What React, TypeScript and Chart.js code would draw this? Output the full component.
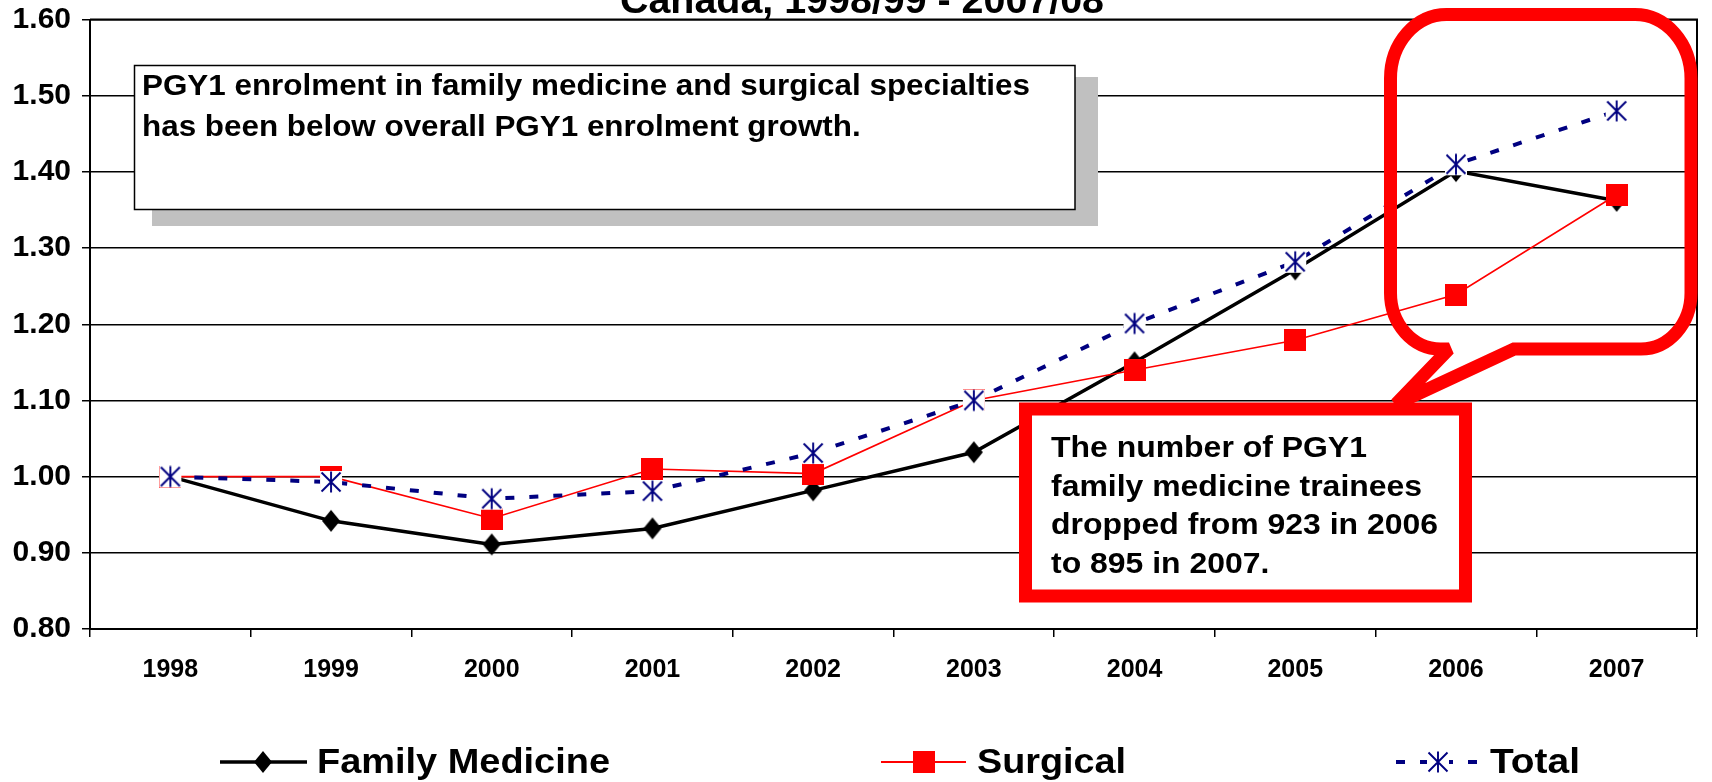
import React, { useEffect, useRef } from 'react';
import { Chart, registerables } from 'chart.js';

Chart.register(...registerables);

// ---------- data ----------
const years = ['1998', '1999', '2000', '2001', '2002', '2003', '2004', '2005', '2006', '2007'];
const familyMedicine = [1.0, 0.942, 0.911, 0.932, 0.982, 1.032, 1.15, 1.272, 1.401, 1.362];
const surgical = [1.0, 1.0, 0.945, 1.01, 1.004, 1.1, 1.14, 1.179, 1.239, 1.37];
const total = [1.0, 0.993, 0.971, 0.981, 1.031, 1.1, 1.201, 1.282, 1.41, 1.48];
const seriesNames = ['Family Medicine', 'Surgical', 'Total'];
const yMin = 0.8;
const yMax = 1.6;
const yStep = 0.1;

const titleText = 'Canada, 1998/99 - 2007/08';
const noteLines = [
  'PGY1 enrolment in family medicine and surgical specialties',
  'has been below overall PGY1 enrolment growth.',
];
const calloutLines = [
  'The number of PGY1',
  'family medicine trainees',
  'dropped from 923 in 2006',
  'to 895 in 2007.',
];

const FONT = '"Liberation Sans", Arial, Helvetica, sans-serif';
const BLACK = '#000000';
const RED = '#FF0000';
const NAVY = '#000080';

// ---------- marker images ----------
function makeDiamond(): HTMLCanvasElement {
  const c = document.createElement('canvas');
  c.width = 20;
  c.height = 24;
  const g = c.getContext('2d')!;
  g.fillStyle = BLACK;
  g.beginPath();
  g.moveTo(10, 1);
  g.lineTo(19, 12);
  g.lineTo(10, 23);
  g.lineTo(1, 12);
  g.closePath();
  g.fill();
  return c;
}

function makeSquare(): HTMLCanvasElement {
  const c = document.createElement('canvas');
  c.width = 22;
  c.height = 22;
  const g = c.getContext('2d')!;
  g.fillStyle = RED;
  g.fillRect(0, 0, 22, 22);
  return c;
}

function makeAsterisk(): HTMLCanvasElement {
  const c = document.createElement('canvas');
  c.width = 24;
  c.height = 24;
  const g = c.getContext('2d')!;
  g.fillStyle = '#FFFFFF';
  g.fillRect(1, 1, 22, 22);
  g.strokeStyle = NAVY;
  g.lineWidth = 1.9;
  g.beginPath();
  g.moveTo(12, 1.5);
  g.lineTo(12, 22.5);
  g.moveTo(2.5, 2.5);
  g.lineTo(21.5, 21.5);
  g.moveTo(21.5, 2.5);
  g.lineTo(2.5, 21.5);
  g.stroke();
  return c;
}

function fitLines(
  ctx: CanvasRenderingContext2D,
  lines: string[],
  x: number,
  baselines: number[],
  refIndex: number,
  refWidth: number
) {
  const w = ctx.measureText(lines[refIndex]).width;
  const s = refWidth / w;
  lines.forEach((t, i) => {
    ctx.save();
    ctx.translate(x, baselines[i]);
    ctx.scale(s, 1);
    ctx.fillText(t, 0, 0);
    ctx.restore();
  });
}

function fitText(ctx: CanvasRenderingContext2D, t: string, x: number, y: number, width: number) {
  const w = ctx.measureText(t).width;
  ctx.save();
  ctx.translate(x, y);
  ctx.scale(width / w, 1);
  ctx.fillText(t, 0, 0);
  ctx.restore();
}

export default function App() {
  const ref = useRef<HTMLCanvasElement | null>(null);

  useEffect(() => {
    const canvas = ref.current;
    if (!canvas) return;
    const diamond = makeDiamond();
    const square = makeSquare();
    const asterisk = makeAsterisk();

    const overlay = {
      id: 'overlay',
      afterDatasetsDraw(chart: any) {
        const ctx: CanvasRenderingContext2D = chart.ctx;
        const a = chart.chartArea;
        ctx.save();
        // frame top/right
        ctx.strokeStyle = BLACK;
        ctx.lineWidth = 2;
        ctx.beginPath();
        ctx.moveTo(a.left, a.top);
        ctx.lineTo(a.right, a.top);
        ctx.lineTo(a.right, a.bottom);
        ctx.stroke();

        // note box with shadow
        ctx.fillStyle = '#C0C0C0';
        ctx.fillRect(152, 77, 946, 149);
        ctx.fillStyle = '#FFFFFF';
        ctx.fillRect(134.5, 65.5, 940.5, 144);
        ctx.strokeStyle = BLACK;
        ctx.lineWidth = 1.5;
        ctx.strokeRect(134.5, 65.5, 940.5, 144);
        ctx.fillStyle = BLACK;
        ctx.font = `bold 30px ${FONT}`;
        ctx.textAlign = 'left';
        ctx.textBaseline = 'alphabetic';
        fitLines(ctx, noteLines, 142, [95, 136], 0, 888);

        // red callout rectangle
        ctx.fillStyle = '#FFFFFF';
        ctx.fillRect(1025.5, 409, 440, 187);
        ctx.strokeStyle = RED;
        ctx.lineWidth = 13;
        ctx.lineJoin = 'miter';
        ctx.strokeRect(1025.5, 409, 440, 187);
        ctx.fillStyle = BLACK;
        ctx.font = `bold 30px ${FONT}`;
        fitLines(ctx, calloutLines, 1051, [457, 495.5, 534, 572.5], 2, 387);

        // red speech bubble
        const L = 1390.5, R = 1691, T = 14.5, B = 349;
        const rxT = 56, ryT = 64, rxB = 50, ryB = 56;
        ctx.strokeStyle = RED;
        ctx.lineWidth = 13;
        ctx.lineJoin = 'miter';
        ctx.miterLimit = 2.5;
        ctx.beginPath();
        ctx.moveTo(L + rxT, T);
        ctx.lineTo(R - rxT, T);
        ctx.ellipse(R - rxT, T + ryT, rxT, ryT, 0, -Math.PI / 2, 0);
        ctx.lineTo(R, B - ryB);
        ctx.ellipse(R - rxB, B - ryB, rxB, ryB, 0, 0, Math.PI / 2);
        ctx.lineTo(1514, B);
        ctx.lineTo(1396, 404);
        ctx.lineTo(1449, B);
        ctx.lineTo(L + rxB, B);
        ctx.ellipse(L + rxB, B - ryB, rxB, ryB, 0, Math.PI / 2, Math.PI);
        ctx.lineTo(L, T + ryT);
        ctx.ellipse(L + rxT, T + ryT, rxT, ryT, 0, Math.PI, (3 * Math.PI) / 2);
        ctx.closePath();
        ctx.stroke();
        ctx.restore();
      },
      afterDraw(chart: any) {
        const ctx: CanvasRenderingContext2D = chart.ctx;
        const ds = chart.data.datasets;
        ctx.save();
        // clipped title
        ctx.fillStyle = BLACK;
        ctx.font = `bold 38px ${FONT}`;
        ctx.textAlign = 'left';
        ctx.textBaseline = 'alphabetic';
        fitText(ctx, titleText, 620, 13, 484);

        // legend
        const ly = 762;
        const items = [
          { x0: 220, x1: 307, mx: 263, img: diamond, tx: 317, tw: 293 },
          { x0: 881, x1: 966, mx: 924, img: square, tx: 977, tw: 149 },
          { x0: 1396, x1: 1477, mx: 1438, img: asterisk, tx: 1490, tw: 90 },
        ];
        items.forEach((it, i) => {
          const d = ds[i];
          ctx.save();
          ctx.strokeStyle = d.borderColor;
          ctx.lineWidth = i === 1 ? 2 : d.borderWidth;
          ctx.setLineDash(d.borderDash || []);
          ctx.lineCap = 'butt';
          ctx.beginPath();
          ctx.moveTo(it.x0, ly);
          ctx.lineTo(it.x1, ly);
          ctx.stroke();
          ctx.restore();
          ctx.drawImage(it.img, it.mx - it.img.width / 2, ly - it.img.height / 2);
          ctx.fillStyle = BLACK;
          ctx.font = `bold 35px ${FONT}`;
          fitText(ctx, d.label, it.tx, 773, it.tw);
        });
        ctx.restore();
      },
    };

    const tickFontY = { family: FONT, size: 30, weight: 'bold' as const };
    const tickFontX = { family: FONT, size: 25, weight: 'bold' as const };

    const chart = new Chart(canvas, {
      type: 'line',
      data: {
        labels: years,
        datasets: [
          {
            label: seriesNames[0],
            data: familyMedicine,
            borderColor: BLACK,
            backgroundColor: BLACK,
            borderWidth: 3.5,
            pointStyle: diamond,
            pointRadius: 11,
            tension: 0,
            order: 3,
          },
          {
            label: seriesNames[1],
            data: surgical,
            borderColor: RED,
            backgroundColor: RED,
            borderWidth: 1.6,
            pointStyle: square,
            pointRadius: 11,
            tension: 0,
            order: 2,
          },
          {
            label: seriesNames[2],
            data: total,
            borderColor: NAVY,
            backgroundColor: NAVY,
            borderWidth: 4,
            borderDash: [9, 15],
            pointStyle: asterisk,
            pointRadius: 11,
            tension: 0,
            order: 1,
          },
        ],
      },
      options: {
        responsive: false,
        animation: false,
        devicePixelRatio: 1,
        events: [],
        layout: { padding: { top: 19.5, right: 4, left: 0, bottom: 0 } },
        plugins: {
          legend: { display: false },
          title: { display: false },
          tooltip: { enabled: false },
        },
        scales: {
          x: {
            type: 'category',
            offset: true,
            grid: {
              offset: true,
              drawOnChartArea: false,
              drawTicks: true,
              tickLength: 8,
              color: BLACK,
              lineWidth: 1.5,
            },
            border: { color: BLACK, width: 2 },
            ticks: {
              color: BLACK,
              font: tickFontX,
              padding: 18,
              maxRotation: 0,
              autoSkip: false,
            },
            afterFit: (s: any) => {
              s.height = 153;
              s.paddingLeft = 0;
              s.paddingRight = 0;
            },
          },
          y: {
            min: yMin,
            max: yMax,
            grid: { color: BLACK, lineWidth: 1.5, tickLength: 8 },
            border: { color: BLACK, width: 2 },
            ticks: {
              stepSize: yStep,
              color: BLACK,
              font: tickFontY,
              padding: 11,
              callback: (v: any) => Number(v).toFixed(2),
            },
            afterFit: (s: any) => {
              s.width = 90;
              s.paddingTop = 0;
              s.paddingBottom = 0;
            },
          },
        },
      },
      plugins: [overlay],
    } as any);

    return () => chart.destroy();
  }, []);

  return (
    <div style={{ position: 'fixed', left: 0, top: 0, width: 1712, height: 782, background: '#fff' }}>
      <canvas ref={ref} width={1712} height={782} style={{ display: 'block' }} />
    </div>
  );
}
